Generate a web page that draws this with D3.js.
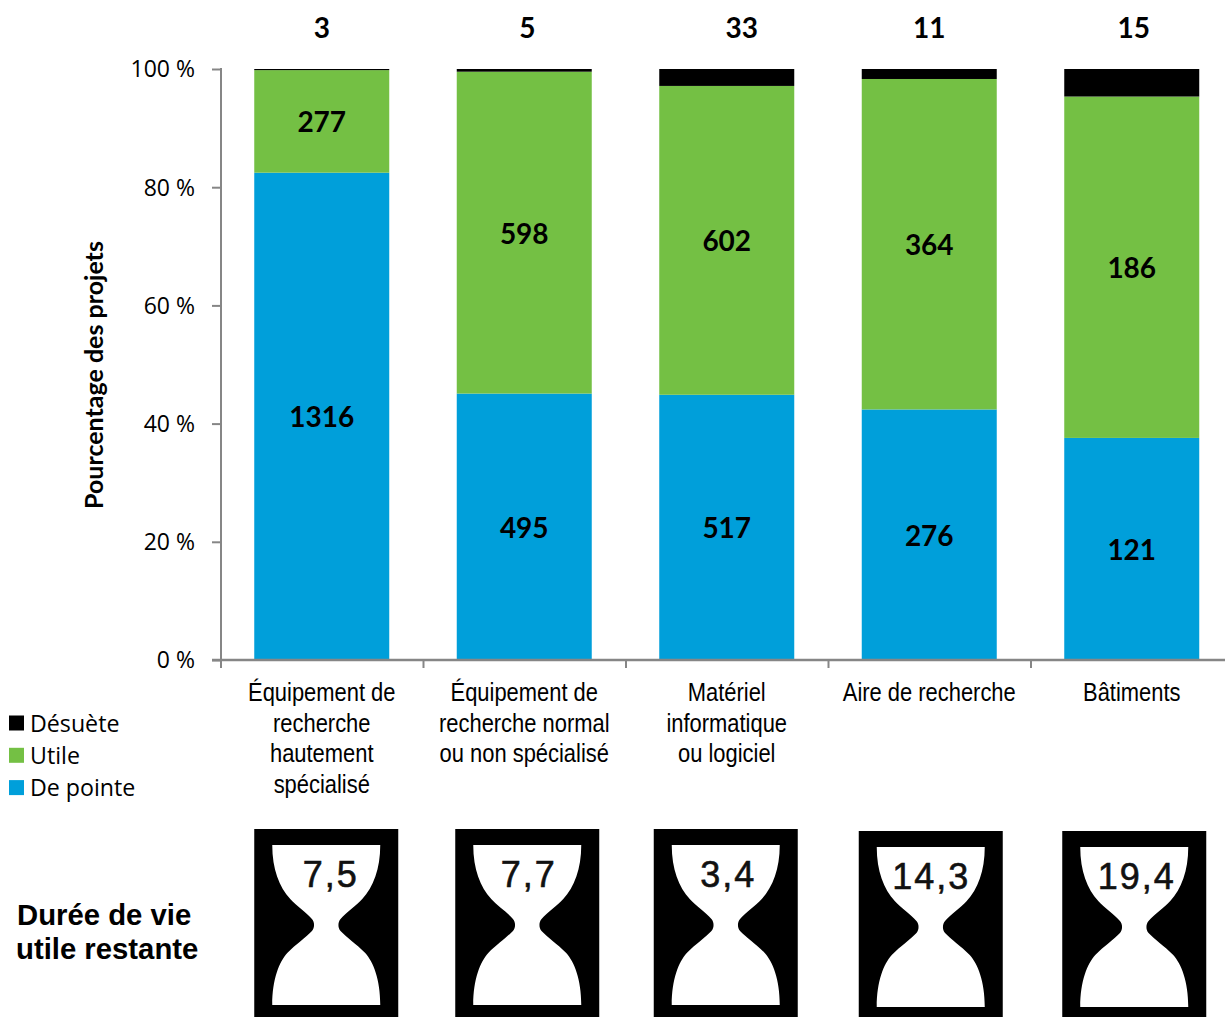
<!DOCTYPE html>
<html><head><meta charset="utf-8"><style>html,body{margin:0;padding:0;background:#fff}svg{display:block}</style>
<script src="https://cdn.jsdelivr.net/npm/d3@7"></script></head><body><svg id="c" width="1225" height="1017"></svg>
<script>
const categories=[["Équipement de","recherche","hautement","spécialisé"],["Équipement de","recherche normal","ou non spécialisé"],["Matériel","informatique","ou logiciel"],["Aire de recherche"],["Bâtiments"]];
const dePointe=[1316,495,517,276,121];
const utile=[277,598,602,364,186];
const desuete=[3,5,33,11,15];
const vieUtile=["7,5","7,7","3,4","14,3","19,4"];
const yTicks=[0,.2,.4,.6,.8,1];
const colors={dePointe:"#009fda",utile:"#74c044",desuete:"#000000"};
const legendNames=[["Désuète","desuete"],["Utile","utile"],["De pointe","dePointe"]];
const topDx=[0,3,15,0,2];
const iconDx=[4.5,3,-1,1.5,2.5],iconTop=[829,829,829,831,831],iconTextDx=[4.5,1.5,2.5,0.5,2.5];

const svg=d3.select("#c");
const lato="Lato, Carlito, sans-serif";
const humanist="'Open Sans','Noto Sans',sans-serif";
const arial="'Liberation Sans',Arial,sans-serif";
const grey="#868686";
const x=d3.scaleBand().domain(d3.range(5)).range([220.5,1233]).paddingInner(1/3).paddingOuter(1/6);
const y=d3.scaleLinear().domain([0,1]).range([660,69]);
const rows=d3.range(5).map(i=>({i,dePointe:dePointe[i],utile:utile[i],desuete:desuete[i]}));
const stack=d3.stack().keys(["dePointe","utile","desuete"]).offset(d3.stackOffsetExpand)(rows);
// bars
svg.append("g").selectAll("g").data(stack).join("g").attr("fill",d=>colors[d.key])
 .selectAll("rect").data(d=>d).join("rect")
 .attr("x",d=>x(d.data.i)).attr("width",x.bandwidth()).attr("y",d=>y(d[1])).attr("height",d=>y(d[0])-y(d[1]));
// axes
const ya=d3.axisLeft(y).tickValues(yTicks).tickSize(9).tickPadding(17).tickFormat(d=>Math.round(d*100)+" %");
const gy=svg.append("g").attr("transform","translate(221,0)").call(ya);
gy.select("path").remove();
gy.append("line").attr("y1",68).attr("y2",668);
gy.selectAll("line").attr("stroke",grey).attr("stroke-width",2);
gy.selectAll(".tick text").attr("fill","#000").attr("font-family",humanist).attr("font-size",23).attr("dy","0.34em");
const step=x.step();
const bl=svg.append("g");
bl.append("line").attr("x1",212).attr("x2",1225).attr("y1",660).attr("y2",660).attr("stroke",grey).attr("stroke-width",2.5);
bl.selectAll("line.t").data(d3.range(1,5)).join("line").attr("class","t")
 .attr("x1",d=>221+d*step).attr("x2",d=>221+d*step).attr("y1",660).attr("y2",668).attr("stroke",grey).attr("stroke-width",2);
// value labels
const cx=i=>x(i)+x.bandwidth()/2;
const lab=(t,px,py)=>svg.append("text").text(t).attr("x",px).attr("y",py).attr("text-anchor","middle").attr("dy","0.35em").attr("font-family",lato).attr("font-weight",700).attr("font-size",28).attr("fill","#000");
stack.slice(0,2).forEach(s=>s.forEach(d=>lab(d.data[s.key],cx(d.data.i),y((d[0]+d[1])/2)+1.2)));
desuete.forEach((v,i)=>lab(v,cx(i)+topDx[i],28));
// category labels
categories.forEach((ls,i)=>{ls.forEach((l,k)=>svg.append("text").text(l).attr("transform",`translate(${cx(i)},${701+k*30.7}) scale(0.877,1)`).attr("text-anchor","middle").attr("font-family",arial).attr("font-size",25).attr("fill","#000"));});
// y title
svg.append("text").text("Pourcentage des projets").attr("transform","translate(103,375) rotate(-90)").attr("text-anchor","middle").attr("font-family",lato).attr("font-weight",700).attr("font-size",25).attr("fill","#000");
// legend
legendNames.forEach(([n,k],i)=>{const ly=723.5+i*32.3;
 svg.append("rect").attr("x",9).attr("y",ly-8).attr("width",15).attr("height",15).attr("fill",colors[k]);
 svg.append("text").text(n).attr("x",30).attr("y",ly).attr("dy","0.35em").attr("font-family",humanist).attr("font-size",23.2).attr("fill","#000");});
// title left
["Durée de vie","utile restante"].forEach((s,i)=>svg.append("text").text(s).attr("x",i?16:17).attr("y",925+i*34).attr("font-family",arial).attr("font-weight",700).attr("font-size",29.3).attr("fill","#000"));
// hourglasses
const W=144,H=190;
const glass="M-54,16 L54,16 C54,40 47,58 36,70 C30,77 20,83 14.3,90 C11.5,93 11.5,99 14.3,102 C20,108 30,115 39,124 C47,133 54,150 54,176 L-54,176 C-54,150 -47,133 -39,124 C-30,115 -20,108 -14.3,102 C-11.5,99 -11.5,93 -14.3,90 C-20,83 -30,77 -36,70 C-47,58 -54,40 -54,16 Z";
vieUtile.forEach((v,i)=>{
 const g=svg.append("g").attr("transform",`translate(${cx(i)+iconDx[i]},${iconTop[i]})`);
 g.append("rect").attr("x",-W/2).attr("y",0).attr("width",W).attr("height",H).attr("fill","#000");
 g.append("path").attr("fill","#fff").attr("d",glass);
 g.append("text").text(v).attr("x",iconTextDx[i]).attr("y",58).attr("text-anchor","middle").attr("font-family",arial).attr("font-size",36).attr("letter-spacing",2).attr("fill","#111").attr("stroke","#111").attr("stroke-width",0.6);
});
</script></body></html>
